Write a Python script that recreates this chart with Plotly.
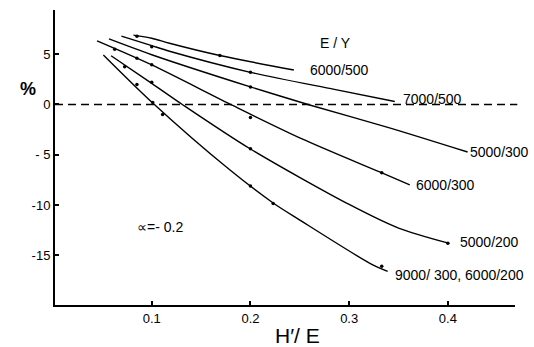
import plotly.graph_objects as go

# ---- data ----
x_6000_500 = [0.0815, 0.100, 0.118, 0.169, 0.244]
y_6000_500 = [6.90, 6.59, 6.09, 4.87, 3.43]

x_7000_500 = [0.0693, 0.100, 0.118, 0.200, 0.285, 0.3462]
y_7000_500 = [6.80, 5.85, 5.30, 3.20, 1.50, 0.30]

x_5000_300 = [0.0567, 0.100, 0.200, 0.260, 0.340, 0.420]
y_5000_300 = [6.52, 4.95, 1.75, -0.05, -2.30, -4.73]

x_6000_300 = [0.0446, 0.100, 0.182, 0.2517, 0.3338, 0.3614]
y_6000_300 = [6.32, 3.93, -0.10, -3.40, -6.84, -8.00]

x_5000_200 = [0.0588, 0.100, 0.131, 0.200, 0.300, 0.350, 0.4006]
y_5000_200 = [4.85, 2.10, 0.00, -4.43, -9.95, -12.30, -13.80]

x_9000_300 = [0.051, 0.101, 0.179, 0.223, 0.250, 0.321, 0.339]
y_9000_300 = [4.93, 0.15, -6.50, -9.80, -11.50, -15.80, -16.60]

pts_x = [0.085, 0.100, 0.0625, 0.085, 0.100, 0.0726, 0.100, 0.085, 0.101, 0.111,
         0.169, 0.200, 0.200, 0.200, 0.200, 0.200, 0.223, 0.333, 0.333, 0.400]
pts_y = [6.80, 5.75, 5.50, 4.60, 3.95, 3.75, 2.20, 2.00, 0.20, -1.00,
         4.87, 3.20, 1.75, -1.30, -4.40, -8.10, -9.85, -6.80, -16.10, -13.80]

x_ticks = [0.1, 0.2, 0.3, 0.4]
x_tick_labels = ["0.1", "0.2", "0.3", "0.4"]
y_ticks = [5, 0, -5, -10, -15]
y_tick_labels = ["5", "0", "- 5", "-10", "-15"]

labels = ["E / Y", "6000/500", "7000/500", "5000/300", "6000/300", "5000/200",
          "9000/ 300, 6000/200", "\u221d=- 0.2"]
label_x = [0.268, 0.258, 0.353, 0.420, 0.366, 0.410, 0.344, 0.083]
label_y = [6.12, 3.43, 0.50, -4.73, -8.00, -13.68, -16.97, -12.19]

FONT = "Liberation Sans, Arial, sans-serif"

fig = go.Figure()
series = [(x_6000_500, y_6000_500), (x_7000_500, y_7000_500), (x_5000_300, y_5000_300),
          (x_6000_300, y_6000_300), (x_5000_200, y_5000_200), (x_9000_300, y_9000_300)]
for xs, ys in series:
    fig.add_trace(go.Scatter(x=xs, y=ys, mode="lines",
                             line=dict(color="black", width=1.4, shape="spline", smoothing=0.8),
                             hoverinfo="skip", showlegend=False))

fig.add_trace(go.Scatter(x=pts_x, y=pts_y, mode="markers",
                         marker=dict(color="black", size=3.5), showlegend=False, hoverinfo="skip"))

fig.add_shape(type="line", xref="paper", yref="y", x0=0, x1=1.005, y0=0, y1=0,
              line=dict(color="black", width=1.3, dash="8px,5px"))

for t, lx, ly in zip(labels, label_x, label_y):
    fig.add_annotation(x=lx, y=ly, text=t, showarrow=False, xanchor="left", yanchor="middle",
                       font=dict(family=FONT, size=14, color="black"))

fig.add_annotation(xref="paper", yref="paper", x=-0.08, y=0.773, text="<b>%</b>",
                   showarrow=False, font=dict(family=FONT, size=18, color="black"))
fig.add_annotation(xref="paper", yref="paper", x=0.528, y=-0.105, text="H\u2032/ E",
                   showarrow=False, yanchor="middle",
                   font=dict(family=FONT, size=21, color="black"))

fig.update_layout(
    width=534, height=347,
    margin=dict(l=55, r=19, t=10, b=42),
    paper_bgcolor="white", plot_bgcolor="white",
    xaxis=dict(range=[0.002, 0.468], showline=True, linewidth=2, linecolor="black",
               ticks="inside", ticklen=4, tickwidth=1.5, tickcolor="black",
               tickvals=x_ticks, ticktext=x_tick_labels, showgrid=False, zeroline=False,
               tickfont=dict(family=FONT, size=13, color="black")),
    yaxis=dict(range=[-19.95, 9.4], showline=True, linewidth=2, linecolor="black",
               ticks="inside", ticklen=4, tickwidth=1.5, tickcolor="black",
               tickvals=y_ticks, ticktext=y_tick_labels, showgrid=False, zeroline=False,
               tickfont=dict(family=FONT, size=13, color="black")),
)

fig.write_html("out.html", config={"displayModeBar": False})
